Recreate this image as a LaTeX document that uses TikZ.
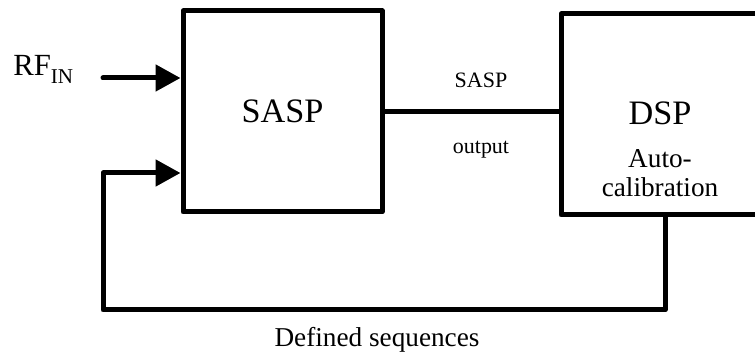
\documentclass[tikz,border=0pt]{standalone}
\usepackage{fontspec}
\setmainfont{Liberation Serif}
\usetikzlibrary{positioning,calc,arrows.meta}
\tikzset{
  blk/.style ={draw,inner sep=0pt,minimum width=3.98cm,minimum height=4.02cm,line width=0.1cm},
  wire/.style={-{Triangle[length=0.5cm,width=0.52cm]},line width=0.1cm,line cap=round},
  link/.style={line width=0.1cm},
  big/.style ={font=\fontsize{19.5}{22}\selectfont,inner sep=0pt},
  mid/.style ={font=\fontsize{12.5}{15}\selectfont,inner sep=0pt},
  lbl/.style ={font=\fontsize{15.5}{17}\selectfont,inner sep=0pt,align=center},
}

\begin{document}
\begin{tikzpicture}[line join=round]
\clip (0,0) rectangle (15.1,7.08);

% ===================== BLOCOS =======================================
\node[blk,big] (sasp) at (5.65,4.85) {SASP};
\node[blk,minimum width=3.96cm] (dsp) at (13.2,4.79) {};
\node[big,anchor=base] (dsptxt) at (13.2,4.58) {DSP};
\node[lbl,anchor=base] (autocal) at (13.2,3.14) {Auto-\\calibration};

% ===================== ENTRADA ======================================
\node[font=\fontsize{17.5}{20}\selectfont,inner sep=0pt,anchor=base west] (rfin) at (0.26,5.56)
  {RF\raisebox{-4pt}{\fontsize{12}{12}\selectfont IN}};
\coordinate (rfstart) at (2.06,5.52);
\draw[wire] (rfstart) -- (rfstart -| sasp.west);

% ===================== SAIDA SASP ===================================
\draw[link] (sasp.east) -- (sasp.east -| dsp.west);
\node[mid,anchor=base] (outtop) at (9.62,5.32) {SASP};
\node[mid,anchor=base] (outbot) at (9.62,4.0) {output};

% ===================== REALIMENTACAO ================================
\coordinate (fbdown) at (13.3,0.88);
\coordinate (fbleft) at (2.06,3.62);
\draw[wire] (fbdown |- dsp.south) -- (fbdown) -| (fbleft) -- (fbleft -| sasp.west);
\node[lbl,anchor=base] (defseq) at (7.54,0.14) {Defined sequences};

\end{tikzpicture}
\end{document}
